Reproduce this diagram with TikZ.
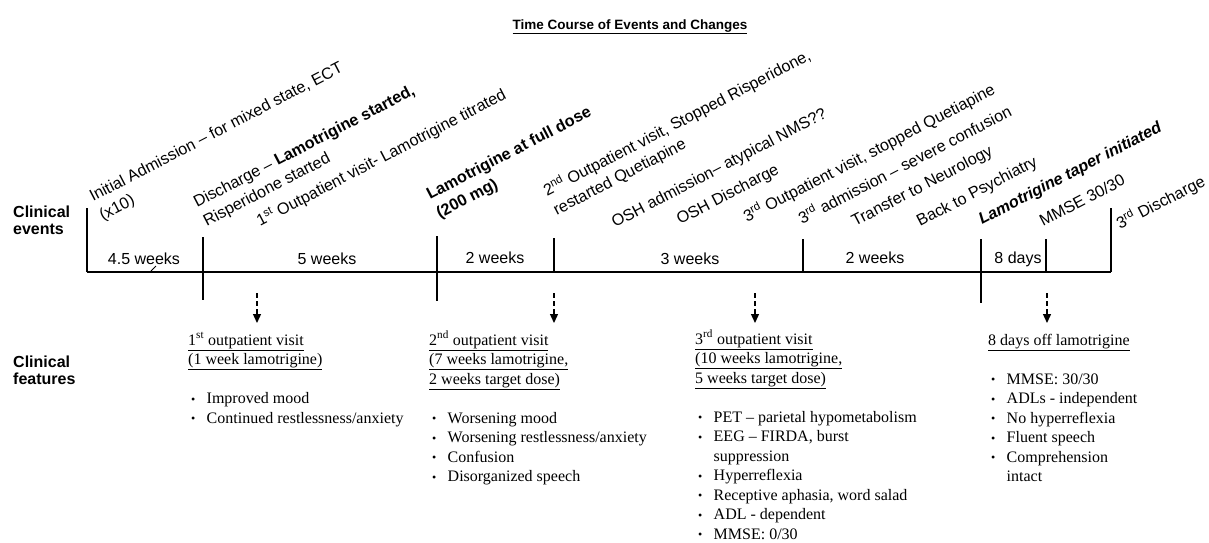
\documentclass[tikz,border=0pt]{standalone}
\usepackage{fontspec}
\setmainfont{Liberation Serif}
\newfontfamily\arialf{Liberation Sans}
\usetikzlibrary{arrows.meta}
\tikzset{
  toplab/.style={font=\arialf\fontsize{16.2}{21}\selectfont, rotate=27.5, anchor=base west, inner sep=0pt},
  durlab/.style={font=\arialf\fontsize{16}{18}\selectfont, anchor=base, inner sep=0pt},
  sidelab/.style={font=\arialf\bfseries\fontsize{16}{17.5}\selectfont, anchor=base west, inner sep=0pt},
  featlab/.style={font=\fontsize{16}{19.5}\selectfont, anchor=base west, inner sep=0pt},
  axisline/.style={line width=1.8pt},
  darr/.style={line width=1.3pt, dash pattern=on 5pt off 3pt, -{Triangle[length=9pt,width=8pt]}},
}
\newcommand{\bul}{\hspace*{3pt}\makebox[15.5pt][l]{\raisebox{0.5pt}{\fontsize{12}{12}\selectfont\textbullet}}}
\newcommand{\sfx}[1]{\textsuperscript{#1}}
\begin{document}
\begin{tikzpicture}[x=1pt,y=-1pt]
\useasboundingbox (0,0) rectangle (1209,542);
% title
\node[font=\arialf\bfseries\fontsize{13.5}{16}\selectfont, anchor=base, inner sep=0pt] (title) at (630,29) {\underline{Time Course of Events and Changes}};
% side labels
\node[sidelab] (ce) at (13,217) {\begin{tabular}[t]{@{}l@{}}Clinical\\events\end{tabular}};
\node[sidelab] (cf) at (13,367) {\begin{tabular}[t]{@{}l@{}}Clinical\\features\end{tabular}};
% timeline coordinates
\coordinate (t0) at (87,272);
\coordinate (t1) at (203,272);
\coordinate (t2) at (437,272);
\coordinate (t3) at (554,272);
\coordinate (t4) at (803,272);
\coordinate (t5) at (981,272);
\coordinate (t6) at (1046,272);
\coordinate (t7) at (1111,272);
\draw[axisline] (t0) -- (t7);
\draw[axisline] (t0) -- ++(0,-64);
\draw[axisline] (t1) ++(0,-35) -- ++(0,63);
\draw[axisline] (t2) ++(0,-36) -- ++(0,65);
\draw[axisline] (t3) -- ++(0,-34);
\draw[axisline] (t4) -- ++(0,-33);
\draw[axisline] (t5) ++(0,-33) -- ++(0,64);
\draw[axisline] (t6) -- ++(0,-33);
\draw[axisline] (t7) -- ++(0,-64);
\draw[line width=0.8pt] (151,271) -- (156,266);
% durations
\node[durlab] (d1) at (144,264) {4.5 weeks};
\node[durlab] (d2) at (327,264) {5 weeks};
\node[durlab] (d3) at (495,263) {2 weeks};
\node[durlab] (d4) at (690,264) {3 weeks};
\node[durlab] (d5) at (875,263) {2 weeks};
\node[durlab] (d6) at (1018,263) {8 days};
% event labels
\node[toplab] (e1) at (93,202) {\begin{tabular}[t]{@{}l@{}}Initial Admission – for mixed state, ECT\\(x10)\end{tabular}};
\node[toplab] (e2) at (197,208) {\begin{tabular}[t]{@{}l@{}}Discharge – \textbf{Lamotrigine started,}\\Risperidone started\end{tabular}};
\node[toplab] (e3) at (260,227) {1\sfx{st} Outpatient visit- Lamotrigine titrated};
\node[toplab] (e4) at (430,200) {\begin{tabular}[t]{@{}l@{}}\textbf{Lamotrigine at full dose}\\\textbf{(200 mg)}\end{tabular}};
\node[toplab] (e5) at (547,197) {\begin{tabular}[t]{@{}l@{}}2\sfx{nd} Outpatient visit, Stopped Risperidone,\\restarted Quetiapine\end{tabular}};
\node[toplab] (e6) at (615,228) {OSH admission– atypical NMS??};
\node[toplab] (e7) at (680,225) {OSH Discharge};
\node[toplab] (e8) at (747,223) {3\sfx{rd} Outpatient visit, stopped Quetiapine};
\node[toplab] (e9) at (802,225) {3\sfx{rd} admission – severe confusion};
\node[toplab] (e10) at (855,227) {Transfer to Neurology};
\node[toplab] (e11) at (920,227) {Back to Psychiatry};
\node[toplab] (e12) at (982,225) {\textbf{\textit{Lamotrigine taper initiated}}};
\node[toplab] (e13) at (1043,227) {MMSE 30/30};
\node[toplab] (e14) at (1120,230) {3\sfx{rd} Discharge};
% dashed arrows
\coordinate (a1s) at (257,293); \coordinate (a1e) at (257,323);
\coordinate (a2s) at (554,293); \coordinate (a2e) at (554,323);
\coordinate (a3s) at (755,293); \coordinate (a3e) at (755,323);
\coordinate (a4s) at (1047,293); \coordinate (a4e) at (1047,323);
\draw[darr] (a1s) -- (a1e);
\draw[darr] (a2s) -- (a2e);
\draw[darr] (a3s) -- (a3e);
\draw[darr] (a4s) -- (a4e);
% features
\node[featlab] (f1) at (188,345) {\begin{tabular}[t]{@{}l@{}}
\underline{1\sfx{st} outpatient visit}\\
\underline{(1 week lamotrigine)}\\
\\
\bul Improved mood\\
\bul Continued restlessness/anxiety
\end{tabular}};
\node[featlab] (f2) at (429,345) {\begin{tabular}[t]{@{}l@{}}
\underline{2\sfx{nd} outpatient visit}\\
\underline{(7 weeks lamotrigine,}\\
\underline{2 weeks target dose)}\\
\\
\bul Worsening mood\\
\bul Worsening restlessness/anxiety\\
\bul Confusion\\
\bul Disorganized speech
\end{tabular}};
\node[featlab] (f3) at (695,344) {\begin{tabular}[t]{@{}l@{}}
\underline{3\sfx{rd} outpatient visit}\\
\underline{(10 weeks lamotrigine,}\\
\underline{5 weeks target dose)}\\
\\
\bul PET – parietal hypometabolism\\
\bul EEG – FIRDA, burst\\
\hspace*{18.5pt}suppression\\
\bul Hyperreflexia\\
\bul Receptive aphasia, word salad\\
\bul ADL - dependent\\
\bul MMSE: 0/30
\end{tabular}};
\node[featlab] (f4) at (988,345) {\begin{tabular}[t]{@{}l@{}}
\underline{8 days off lamotrigine}\\
\\
\bul MMSE: 30/30\\
\bul ADLs - independent\\
\bul No hyperreflexia\\
\bul Fluent speech\\
\bul Comprehension\\
\hspace*{18.5pt}intact
\end{tabular}};
\end{tikzpicture}
\end{document}
